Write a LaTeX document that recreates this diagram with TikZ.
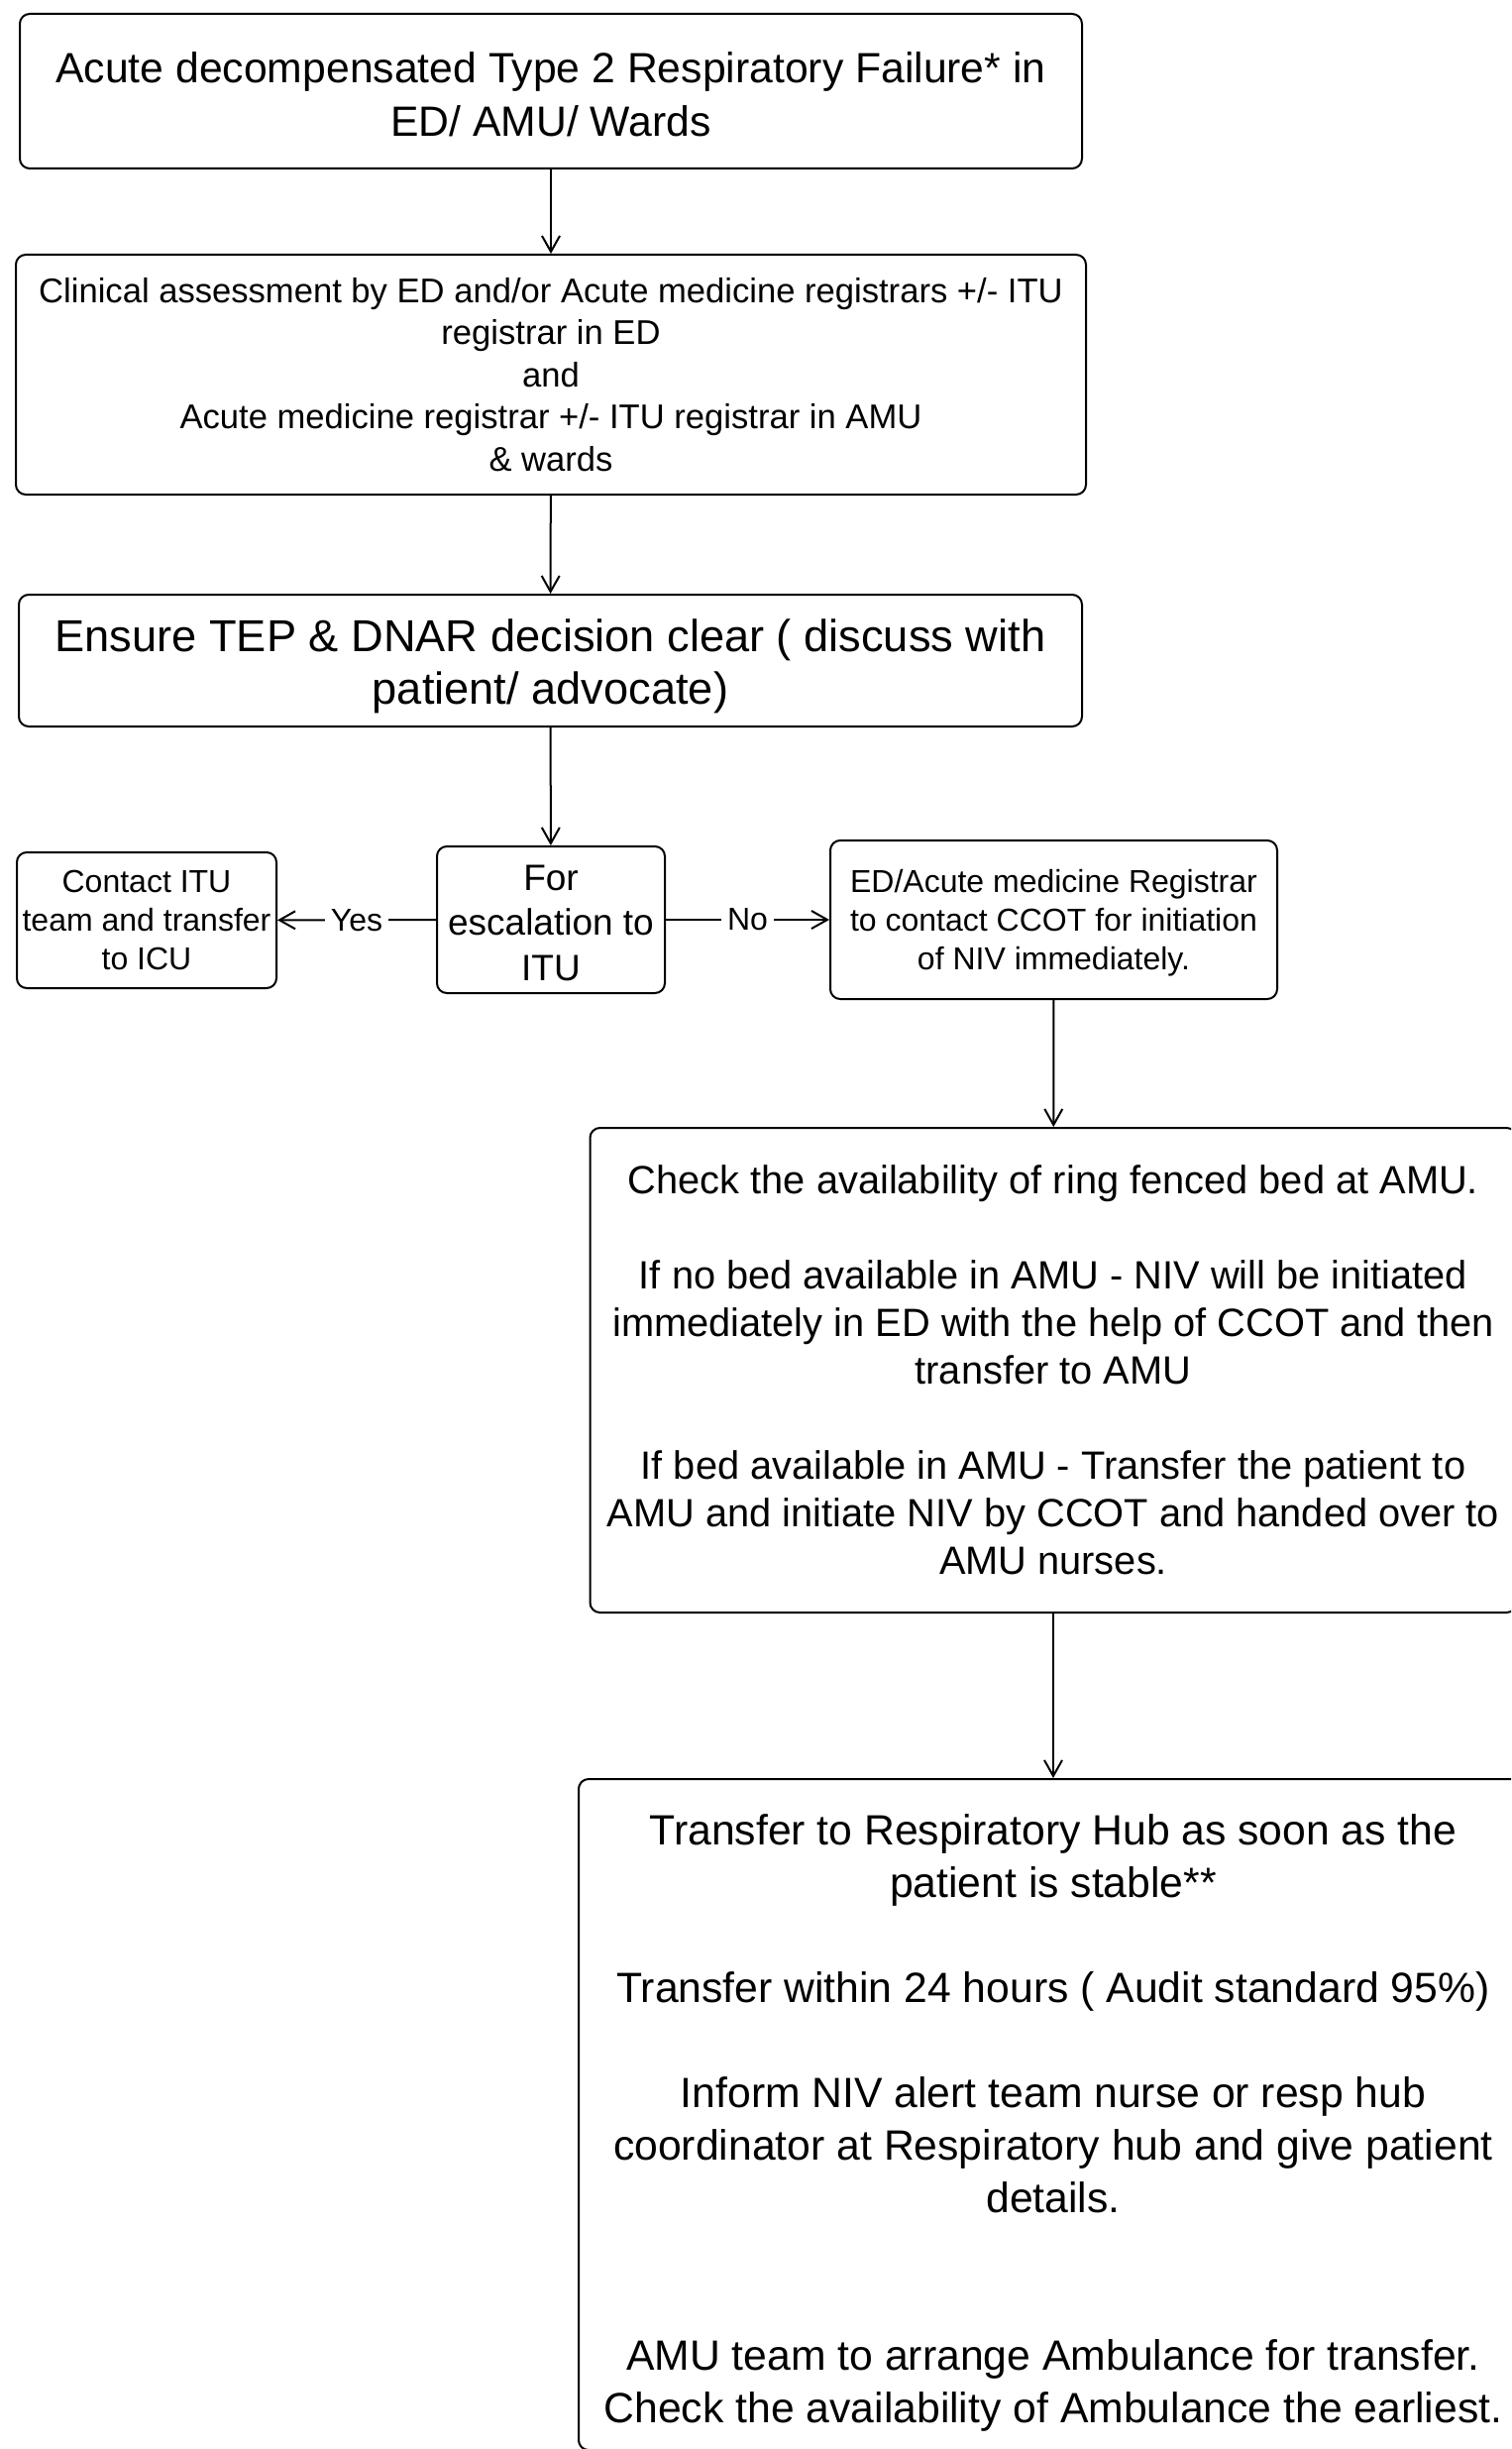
\documentclass[tikz,border=0pt]{standalone}
\usepackage{fontspec}
\setmainfont{Liberation Sans}
\usetikzlibrary{arrows.meta}
\begin{document}
\begin{tikzpicture}[x=0.5pt,y=-0.5pt,
  box/.style={draw, rounded corners=5pt, line width=1pt, inner sep=0pt},
  txt/.style={align=center, inner sep=0pt},
  conn/.style={line width=1pt, -{Straight Barb[length=8pt,width=9pt,line width=1pt]}},
  lbl/.style={fill=white, inner sep=3pt, font=\fontsize{16pt}{19.7pt}\selectfont},
  fA/.style={font=\fontsize{21.35pt}{26.8pt}\selectfont},
  fG/.style={font=\fontsize{21.35pt}{26.5pt}\selectfont},
  fB/.style={font=\fontsize{17.3pt}{21.25pt}\selectfont},
  fC/.style={font=\fontsize{16pt}{19.7pt}\selectfont},
  fD/.style={font=\fontsize{18.5pt}{22.8pt}\selectfont},
  fE/.style={font=\fontsize{19.9pt}{24pt}\selectfont},
  fF/.style={font=\fontsize{22.6pt}{26.8pt}\selectfont}]
\useasboundingbox (0,0) rectangle (1525,2471);
\clip (0,0) rectangle (1525,2471);
\fill[white] (0,0) rectangle (1525,2471);

\node[box, minimum width=536pt, minimum height=78pt] (b1) at (556,92) {};
\node[txt, fA] (b1t) at ([yshift=-1.5pt]b1.center)
  {Acute decompensated Type 2 Respiratory Failure* in\\ED/ AMU/ Wards};
\node[box, minimum width=540pt, minimum height=121pt] (b2) at (556,378) {};
\node[txt, fB] (b2t) at (b2.center)
  {Clinical assessment by ED and/or Acute medicine registrars +/- ITU\\registrar in ED\\and\\Acute medicine registrar +/- ITU registrar in AMU\\\& wards};
\node[box, minimum width=536.5pt, minimum height=66.5pt] (b3) at (555.5,666.5) {};
\node[txt, fF] (b3t) at ([yshift=-3pt]b3.center)
  {Ensure TEP \& DNAR decision clear ( discuss with\\patient/ advocate)};
\node[box, minimum width=131pt, minimum height=68.5pt] (itu) at (148,928.5) {};
\node[txt, fC] (itut) at (itu.center)
  {Contact ITU\\team and transfer\\to ICU};
\node[box, minimum width=115pt, minimum height=74pt] (esc) at (556,928) {};
\node[txt, fD] (esct) at ([yshift=-1.6pt]esc.center)
  {For\\escalation to\\ITU};
\node[box, minimum width=225.5pt, minimum height=80pt] (ed) at (1063.5,928) {};
\node[txt, fC] (edt) at ([yshift=-1.6pt]ed.center)
  {ED/Acute medicine Registrar\\to contact CCOT for initiation\\of NIV immediately.};
\node[box, minimum width=467.5pt, minimum height=244.5pt] (b6) at (1063,1382.5) {};
\node[txt, fE] (b6t) at (b6.center)
  {Check the availability of ring fenced bed at AMU.\\[24pt]
   If no bed available in AMU - NIV will be initiated\\immediately in ED with the help of CCOT and then\\transfer to AMU\\[24pt]
   If bed available in AMU - Transfer the patient to\\AMU and initiate NIV by CCOT and handed over to\\AMU nurses.};
\node[box, minimum width=479pt, minimum height=338.5pt] (b7) at (1063,2133.5) {};
\node[txt, fG] (b7t) at ([yshift=-4.3pt]b7.center)
  {Transfer to Respiratory Hub as soon as the\\patient is stable**\\[26.5pt]
   Transfer within 24 hours ( Audit standard 95\%)\\[26.5pt]
   Inform NIV alert team nurse or resp hub\\coordinator at Respiratory hub and give patient\\details.\\[53pt]
   AMU team to arrange Ambulance for transfer.\\Check the availability of Ambulance the earliest.};

\draw[conn] (b1) -- (b2);
\draw[conn] (b2) -- (b3);
\draw[conn] (b3) -- (esc);
\draw[conn] (esc) -- node[lbl] (yes) {Yes} (itu);
\draw[conn] (esc) -- node[lbl] (no) {No} (ed);
\draw[conn] (ed) -- (b6);
\draw[conn] (b6) -- (b7);
\end{tikzpicture}
\end{document}
